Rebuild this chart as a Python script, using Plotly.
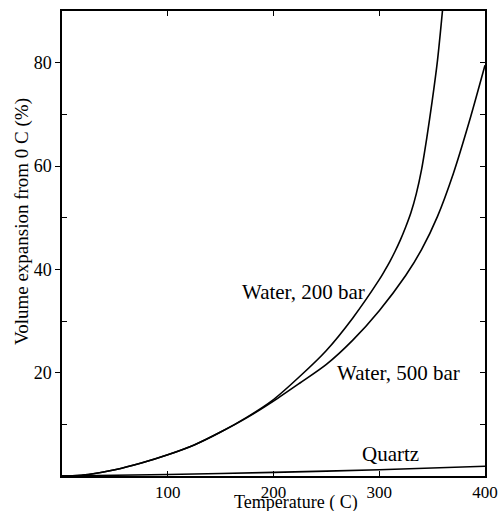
import plotly.graph_objects as go

temp_200 = [0, 10, 25, 50, 75, 100, 125, 150, 175, 200, 225, 250, 275, 300, 305, 310, 315, 320, 325, 330,
            335, 340, 345, 350, 355, 360]
exp_200 = [0, 0.05, 0.3, 1.2, 2.5, 4.1, 6.0, 8.5, 11.4, 14.8, 19.3, 24.3, 30.6, 38.0, 39.7, 41.5, 43.5, 45.7,
           48.2, 51.0, 54.6, 59.3, 65.5, 72.5, 80.3, 90.5]

temp_500 = [0, 10, 25, 50, 75, 100, 125, 150, 175, 200, 225, 250, 275, 300, 325, 340, 355, 370, 385, 400]
exp_500 = [0, 0.05, 0.3, 1.2, 2.5, 4.1, 6.0, 8.5, 11.3, 14.5, 18.0, 21.6, 26.3, 32.0, 38.8, 43.8, 50.2, 58.5,
           68.5, 79.5]

temp_q = [0, 100, 200, 300, 400]
exp_q = [0, 0.3, 0.7, 1.2, 1.9]

x_ticks = [100, 200, 300, 400]
y_ticks = [20, 40, 60, 80]
y_minor = [10, 30, 50, 70]

FONT = "Liberation Serif"
line = dict(color="black", width=1.6, shape="spline", smoothing=0.8)

fig = go.Figure()
fig.add_trace(go.Scatter(x=temp_200, y=exp_200, mode="lines", line=line, showlegend=False))
fig.add_trace(go.Scatter(x=temp_500, y=exp_500, mode="lines", line=line, showlegend=False))
fig.add_trace(go.Scatter(x=temp_q, y=exp_q, mode="lines", line=line, showlegend=False))
# dummy traces to activate top and right axes
fig.add_trace(go.Scatter(x=[None], y=[None], xaxis="x2", yaxis="y", showlegend=False, hoverinfo="skip"))
fig.add_trace(go.Scatter(x=[None], y=[None], xaxis="x", yaxis="y2", showlegend=False, hoverinfo="skip"))

lab_font = dict(family=FONT, size=21, color="black")
fig.add_annotation(x=288.6, y=35.6, text="Water, 200 bar", showarrow=False, xanchor="right", yanchor="middle",
                   font=lab_font)
fig.add_annotation(x=258.3, y=19.9, text="Water, 500 bar", showarrow=False, xanchor="left", yanchor="middle",
                   font=lab_font)
fig.add_annotation(x=310.4, y=4.2, text="Quartz", showarrow=False, xanchor="center", yanchor="middle",
                   font=lab_font)

# axis titles
fig.add_annotation(xref="paper", yref="paper", x=0.553, y=0, yshift=-26, text="Temperature ( C)",
                   showarrow=False, xanchor="center", yanchor="middle",
                   font=dict(family=FONT, size=18, color="black"))
fig.add_annotation(xref="paper", yref="paper", x=0, xshift=-40, y=0.546, text="Volume expansion from 0 C (%)",
                   showarrow=False, xanchor="center", yanchor="middle", textangle=-90,
                   font=dict(family=FONT, size=19, color="black"))

fig.update_layout(
    width=499, height=511,
    margin=dict(l=62, r=14, t=11, b=35),
    paper_bgcolor="white", plot_bgcolor="white",
    font=dict(family=FONT, color="black", size=18),
    xaxis=dict(range=[0, 400], tickvals=x_ticks, ticks="inside", ticklen=5, tickcolor="black", tickwidth=1.2,
               showline=True, linecolor="black", linewidth=1.5, showgrid=False, zeroline=False,
               tickfont=dict(family=FONT, size=17), automargin=False),
    xaxis2=dict(range=[0, 400], overlaying="x", side="top", tickvals=[100, 200, 300], ticks="inside",
                ticklen=5, tickcolor="black", tickwidth=1.2, showticklabels=False, showline=True,
                linecolor="black", linewidth=1.5, showgrid=False, zeroline=False, automargin=False),
    yaxis=dict(range=[0, 90], tickvals=y_ticks, ticks="outside", ticklen=5, tickcolor="black", tickwidth=1.2,
               showline=True, linecolor="black", linewidth=1.5, showgrid=False, zeroline=False,
               minor=dict(tickvals=y_minor, ticks="inside", ticklen=5, tickcolor="black", tickwidth=1.2),
               tickfont=dict(family=FONT, size=18), ticklabelstandoff=0, automargin=False),
    yaxis2=dict(range=[0, 90], overlaying="y", side="right", tickvals=[10, 20, 30, 40, 50, 60, 70, 80],
                ticks="inside", ticklen=5, tickcolor="black", tickwidth=1.2, showticklabels=False, showline=True,
                linecolor="black", linewidth=1.5, showgrid=False, zeroline=False, automargin=False),
)

fig.write_html("out.html")
